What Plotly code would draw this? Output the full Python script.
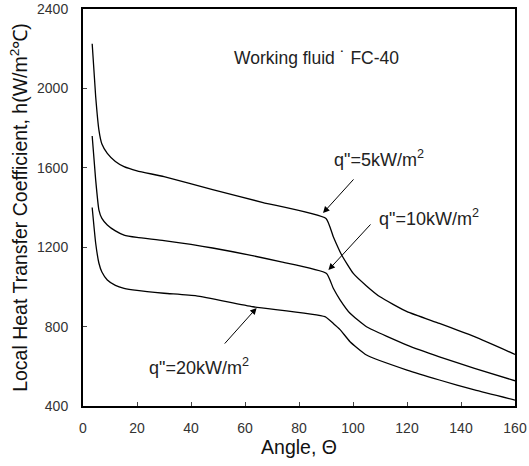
import plotly.graph_objects as go

# Data
angle_5 = [3.4, 4.7, 5.9, 7, 9, 12, 15.2, 20, 30, 48, 66.7, 90, 92.7, 95.8, 100.1, 105, 110, 120, 132, 145, 160]
h_5 = [2225, 1958, 1790, 1720, 1673, 1632, 1606, 1585, 1555, 1490, 1425, 1345, 1253, 1161, 1068, 1005, 950, 875, 816, 749, 660]

angle_10 = [3.4, 4.7, 5.9, 7, 9, 12, 15.2, 20, 30, 48, 73, 90.2, 92.7, 95.2, 98.9, 105, 120, 132, 145, 160]
h_10 = [1760, 1538, 1387, 1345, 1312, 1282, 1261, 1249, 1233, 1196, 1127, 1068, 993, 935, 867, 799, 707, 648, 590, 527]

angle_20 = [3.4, 4.7, 5.9, 7, 9, 12, 15.2, 20, 30, 42, 63, 89.6, 92.7, 95.2, 98.9, 105, 120, 132, 145, 160]
h_20 = [1400, 1220, 1119, 1075, 1035, 1008, 993, 982, 968, 955, 900, 850, 816, 785, 724, 657, 581, 531, 481, 430]

x_ticks = [0, 20, 40, 60, 80, 100, 120, 140, 160]
y_ticks = [400, 800, 1200, 1600, 2000, 2400]

FONT = "Liberation Sans, Arial, sans-serif"

fig = go.Figure()
for xs, ys, name in [(angle_5, h_5, "5"), (angle_10, h_10, "10"), (angle_20, h_20, "20")]:
    fig.add_trace(go.Scatter(x=xs, y=ys, mode="lines", name=name,
                             line=dict(color="black", width=1.3, shape="spline", smoothing=0.45)))

ann = []
ann.append(dict(x=86.5, y=2153, text="Working fluid ˙ FC-40", showarrow=False,
                font=dict(size=17.5, color="#222", family=FONT)))
ann.append(dict(x=109.6, y=1645, text='q"=5kW/m<sup>2</sup>', showarrow=False,
                font=dict(size=18, color="#222", family=FONT)))
ann.append(dict(x=128.3, y=1350, text='q"=10kW/m<sup>2</sup>', showarrow=False,
                font=dict(size=18, color="#222", family=FONT)))
ann.append(dict(x=42.8, y=600, text='q"=20kW/m<sup>2</sup>', showarrow=False,
                font=dict(size=18, color="#222", family=FONT)))
for (hx, hy, tx, ty) in [(88.9, 1372, 100.7, 1549), (90.9, 1085, 107, 1322), (64.3, 894, 52, 707)]:
    ann.append(dict(x=hx, y=hy, ax=tx, ay=ty, xref="x", yref="y", axref="x", ayref="y",
                    text="", showarrow=True, arrowhead=2, arrowsize=1.3, arrowwidth=1,
                    arrowcolor="black"))

fig.update_layout(
    width=529, height=466,
    margin=dict(l=83, r=14, t=9, b=60, autoexpand=False),
    paper_bgcolor="white", plot_bgcolor="white",
    showlegend=False,
    font=dict(family=FONT, color="#222"),
    annotations=ann,
)
fig.update_xaxes(range=[0, 160], tickvals=x_ticks, ticks="inside", ticklen=4,
                 showline=True, linecolor="black", linewidth=2, mirror=True, automargin=False,
                 showgrid=False, zeroline=False, tickfont=dict(size=14, color="#333"),
                 ticklabelstandoff=8,
                 title=dict(text="Angle, Θ", font=dict(size=19.5, color="#111"), standoff=5))
fig.update_yaxes(range=[400, 2400], tickvals=y_ticks, ticks="inside", ticklen=4,
                 showline=True, linecolor="black", linewidth=2, mirror=True, automargin=False,
                 showgrid=False, zeroline=False, tickfont=dict(size=14, color="#333"),
                 ticklabelstandoff=10,
                 title=dict(text="Local Heat Transfer Coefficient, h(W/m<sup>2</sup>℃)",
                            font=dict(size=19.5, color="#111"), standoff=4))

fig.write_html("out.html", post_script="document.body.style.margin='0';",
               config={"displayModeBar": False})
